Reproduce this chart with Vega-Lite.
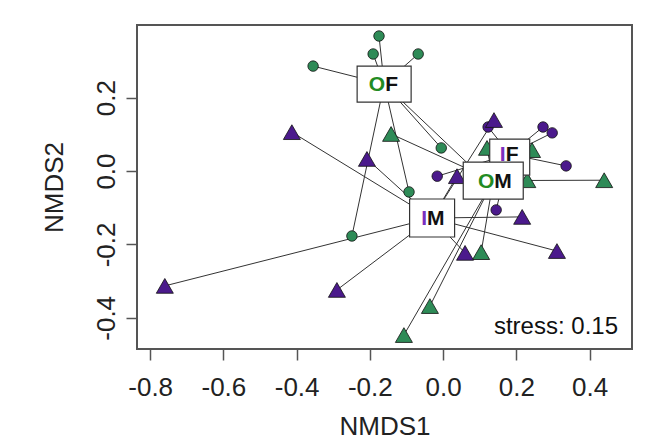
{
  "$schema": "https://vega.github.io/schema/vega-lite/v6.json",
  "width": 495,
  "height": 324,
  "autosize": {"type": "none"},
  "padding": {"left": 137, "top": 25, "right": 20, "bottom": 94},
  "background": "white",
  "config": {
    "font": "Liberation Sans",
    "view": {"stroke": "#555555", "strokeWidth": 2},
    "axis": {"grid": false, "domain": false, "tickColor": "#555555", "tickWidth": 1.5, "tickSize": 11, "labelFontSize": 26, "labelColor": "#222222", "titleFontSize": 26, "titleFontWeight": "normal", "titleColor": "#222222", "labelFont": "Liberation Sans", "titleFont": "Liberation Sans"}
  },
  "datasets": {
    "points": [
      {"group": "OF", "site": "O", "sex": "F", "NMDS1": -0.175, "NMDS2": 0.368},
      {"group": "OF", "site": "O", "sex": "F", "NMDS1": -0.191, "NMDS2": 0.319},
      {"group": "OF", "site": "O", "sex": "F", "NMDS1": -0.068, "NMDS2": 0.319},
      {"group": "OF", "site": "O", "sex": "F", "NMDS1": -0.355, "NMDS2": 0.286},
      {"group": "OF", "site": "O", "sex": "F", "NMDS1": -0.005, "NMDS2": 0.063},
      {"group": "OF", "site": "O", "sex": "F", "NMDS1": -0.093, "NMDS2": -0.057},
      {"group": "OF", "site": "O", "sex": "F", "NMDS1": -0.249, "NMDS2": -0.177},
      {"group": "OF", "site": "O", "sex": "F", "NMDS1": 0.101, "NMDS2": -0.011},
      {"group": "IF", "site": "I", "sex": "F", "NMDS1": 0.123, "NMDS2": 0.120},
      {"group": "IF", "site": "I", "sex": "F", "NMDS1": 0.273, "NMDS2": 0.120},
      {"group": "IF", "site": "I", "sex": "F", "NMDS1": 0.298, "NMDS2": 0.104},
      {"group": "IF", "site": "I", "sex": "F", "NMDS1": 0.336, "NMDS2": 0.014},
      {"group": "IF", "site": "I", "sex": "F", "NMDS1": 0.145, "NMDS2": -0.106},
      {"group": "IF", "site": "I", "sex": "F", "NMDS1": -0.016, "NMDS2": -0.014},
      {"group": "OM", "site": "O", "sex": "M", "NMDS1": 0.440, "NMDS2": -0.025},
      {"group": "OM", "site": "O", "sex": "M", "NMDS1": 0.230, "NMDS2": -0.025},
      {"group": "OM", "site": "O", "sex": "M", "NMDS1": 0.120, "NMDS2": 0.063},
      {"group": "OM", "site": "O", "sex": "M", "NMDS1": 0.243, "NMDS2": 0.057},
      {"group": "OM", "site": "O", "sex": "M", "NMDS1": -0.142, "NMDS2": 0.101},
      {"group": "OM", "site": "O", "sex": "M", "NMDS1": 0.104, "NMDS2": -0.221},
      {"group": "OM", "site": "O", "sex": "M", "NMDS1": -0.036, "NMDS2": -0.368},
      {"group": "OM", "site": "O", "sex": "M", "NMDS1": -0.107, "NMDS2": -0.447},
      {"group": "IM", "site": "I", "sex": "M", "NMDS1": 0.139, "NMDS2": 0.139},
      {"group": "IM", "site": "I", "sex": "M", "NMDS1": 0.038, "NMDS2": -0.014},
      {"group": "IM", "site": "I", "sex": "M", "NMDS1": 0.216, "NMDS2": -0.125},
      {"group": "IM", "site": "I", "sex": "M", "NMDS1": 0.311, "NMDS2": -0.218},
      {"group": "IM", "site": "I", "sex": "M", "NMDS1": 0.060, "NMDS2": -0.223},
      {"group": "IM", "site": "I", "sex": "M", "NMDS1": -0.413, "NMDS2": 0.106},
      {"group": "IM", "site": "I", "sex": "M", "NMDS1": -0.208, "NMDS2": 0.033},
      {"group": "IM", "site": "I", "sex": "M", "NMDS1": -0.760, "NMDS2": -0.313},
      {"group": "IM", "site": "I", "sex": "M", "NMDS1": -0.290, "NMDS2": -0.324}
    ],
    "centroids": [
      {"group": "IF", "site": "I", "sex": "F", "NMDS1": 0.182, "NMDS2": 0.046},
      {"group": "OF", "site": "O", "sex": "F", "NMDS1": -0.161, "NMDS2": 0.237},
      {"group": "OM", "site": "O", "sex": "M", "NMDS1": 0.137, "NMDS2": -0.026},
      {"group": "IM", "site": "I", "sex": "M", "NMDS1": -0.030, "NMDS2": -0.128}
    ]
  },
  "encoding": {
    "x": {"field": "NMDS1", "type": "quantitative", "scale": {"domain": [-0.836, 0.516], "nice": false, "zero": false},
      "axis": {"values": [-0.8, -0.6, -0.4, -0.2, 0, 0.2, 0.4], "format": ".1f", "labelExpr": "replace(datum.label, '\u2212', '-')", "title": "NMDS1", "labelPadding": 14, "titlePadding": 13}},
    "y": {"field": "NMDS2", "type": "quantitative", "scale": {"domain": [-0.485, 0.398], "nice": false, "zero": false},
      "axis": {"values": [-0.4, -0.2, 0, 0.2], "format": ".1f", "labelExpr": "replace(datum.label, '\u2212', '-')", "title": "NMDS2", "labelAngle": 270, "labelAlign": "center", "labelBaseline": "bottom", "labelPadding": 7, "titlePadding": 26}}
  },
  "layer": [
    {
      "data": {"name": "points"},
      "transform": [{"lookup": "group", "from": {"data": {"name": "centroids"}, "key": "group", "fields": ["NMDS1", "NMDS2"]}, "as": ["cx", "cy"]}],
      "mark": {"type": "rule", "color": "#333333", "strokeWidth": 1},
      "encoding": {"x2": {"field": "cx"}, "y2": {"field": "cy"}}
    },
    {
      "data": {"name": "points"},
      "mark": {"type": "point", "filled": true, "stroke": "#111111", "strokeWidth": 0.8, "opacity": 1},
      "encoding": {
        "shape": {"field": "sex", "type": "nominal", "scale": {"domain": ["F", "M"], "range": ["circle", "triangle-up"]}, "legend": null},
        "size": {"field": "sex", "type": "ordinal", "scale": {"domain": ["F", "M"], "range": [110, 290]}, "legend": null},
        "color": {"field": "site", "type": "nominal", "scale": {"domain": ["O", "I"], "range": ["#2E8B57", "#4B1A8C"]}, "legend": null}
      }
    },
    {
      "data": {"name": "centroids"},
      "transform": [{"filter": "datum.group === 'IF'"}],
      "layer": [
        {"mark": {"type": "point", "filled": true, "fill": "white", "stroke": "#333333", "strokeWidth": 1.2, "opacity": 1, "size": 4, "shape": "M-20,-15H20V21H-20Z"}},
        {"mark": {"type": "text", "align": "right", "baseline": "middle", "fontSize": 21, "fontWeight": "bold", "dx": -4, "dy": 1, "color": "#7B2FBE"}, "encoding": {"text": {"field": "site"}}},
        {"mark": {"type": "text", "align": "left", "baseline": "middle", "fontSize": 21, "fontWeight": "bold", "dx": -4, "dy": 1, "color": "#111111"}, "encoding": {"text": {"field": "sex"}}}
      ]
    },
    {
      "data": {"name": "centroids"},
      "transform": [{"filter": "datum.group === 'OF'"}],
      "mark": {"type": "point", "filled": true, "fill": "white", "stroke": "#333333", "strokeWidth": 1.2, "opacity": 1, "size": 4, "shape": "M-27,-18H27V18H-27Z"}
    },
    {
      "data": {"name": "centroids"},
      "transform": [{"filter": "datum.group === 'OM'"}],
      "mark": {"type": "point", "filled": true, "fill": "white", "stroke": "#333333", "strokeWidth": 1.2, "opacity": 1, "size": 4, "shape": "M-30,-18.5H30V18.5H-30Z"}
    },
    {
      "data": {"name": "centroids"},
      "transform": [{"filter": "datum.group === 'IM'"}],
      "mark": {"type": "point", "filled": true, "fill": "white", "stroke": "#333333", "strokeWidth": 1.2, "opacity": 1, "size": 4, "shape": "M-22.5,-19H22.5V19H-22.5Z"}
    },
    {
      "data": {"name": "centroids"},
      "transform": [{"filter": "datum.site === 'O'"}],
      "layer": [
        {"mark": {"type": "text", "align": "right", "baseline": "middle", "fontSize": 21, "fontWeight": "bold", "dx": 1, "dy": 1, "color": "#228B22"}, "encoding": {"text": {"field": "site"}}},
        {"mark": {"type": "text", "align": "left", "baseline": "middle", "fontSize": 21, "fontWeight": "bold", "dx": 1, "dy": 1, "color": "#111111"}, "encoding": {"text": {"field": "sex"}}}
      ]
    },
    {
      "data": {"name": "centroids"},
      "transform": [{"filter": "datum.group === 'IM'"}],
      "layer": [
        {"mark": {"type": "text", "align": "right", "baseline": "middle", "fontSize": 21, "fontWeight": "bold", "dx": -5, "dy": 1, "color": "#7B2FBE"}, "encoding": {"text": {"field": "site"}}},
        {"mark": {"type": "text", "align": "left", "baseline": "middle", "fontSize": 21, "fontWeight": "bold", "dx": -5, "dy": 1, "color": "#111111"}, "encoding": {"text": {"field": "sex"}}}
      ]
    },
    {
      "data": {"values": [{"label": "stress: 0.15"}]},
      "mark": {"type": "text", "align": "right", "baseline": "alphabetic", "fontSize": 24, "dx": -14, "dy": -15, "color": "#111111"},
      "encoding": {"x": {"value": "width"}, "y": {"value": "height"}, "text": {"field": "label"}}
    }
  ]
}
